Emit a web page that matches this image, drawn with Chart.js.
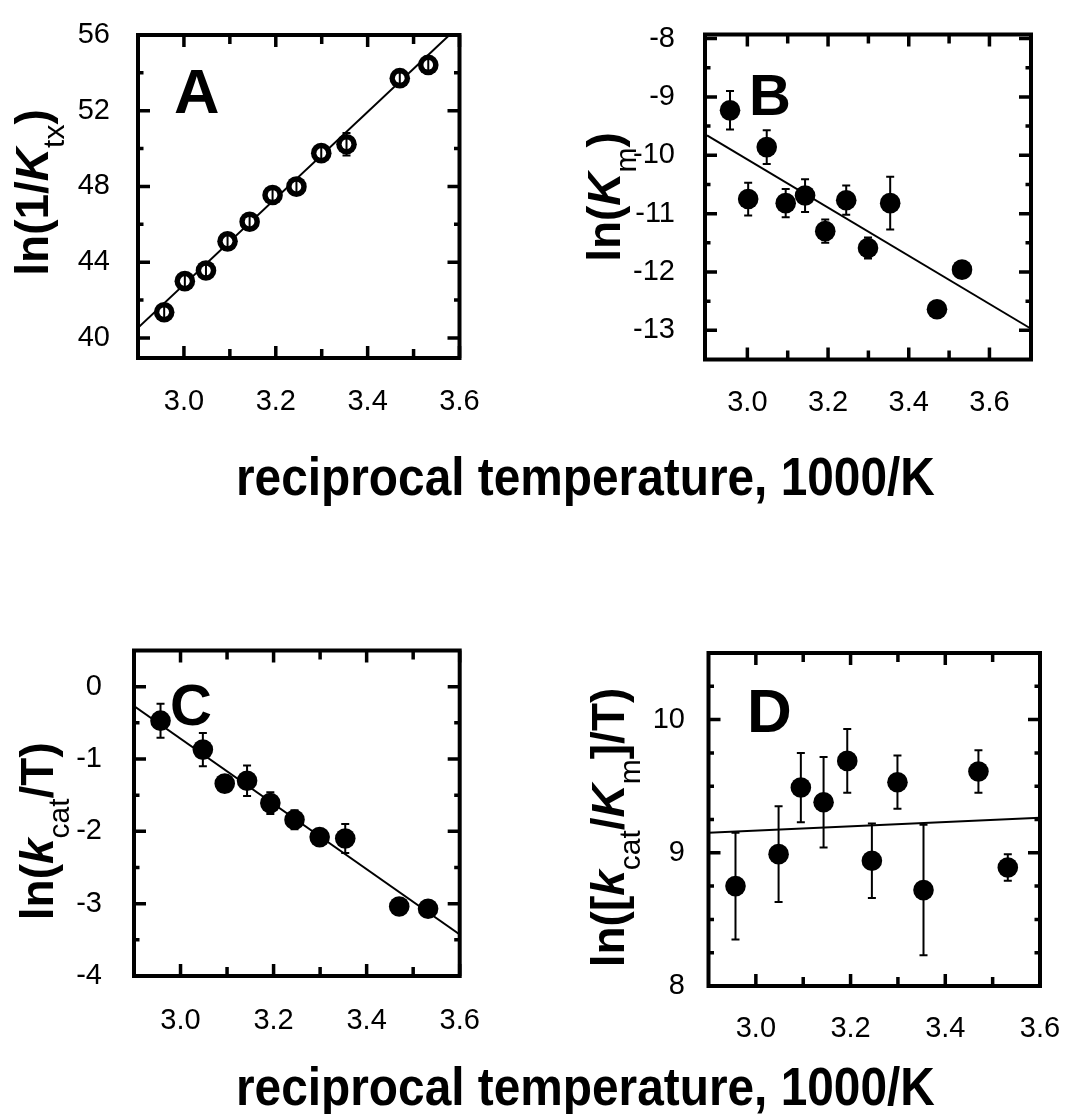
<!DOCTYPE html>
<html>
<head>
<meta charset="utf-8">
<script src="https://cdn.jsdelivr.net/npm/chart.js@4.4.1/dist/chart.umd.min.js"></script>
<style>
html,body{margin:0;padding:0;background:#fff;}
body{width:1067px;height:1114px;position:relative;overflow:hidden;}
canvas{position:absolute;}
.xt{position:absolute;left:236px;font-family:'Liberation Sans',Arial,Helvetica,sans-serif;font-weight:bold;font-size:53px;line-height:53px;white-space:nowrap;transform-origin:0 0;transform:scaleX(0.902);color:#000;}
</style>
</head>
<body>
<canvas id="cA" width="530" height="480" style="left:0px;top:-40px"></canvas>
<canvas id="cB" width="600" height="480" style="left:530px;top:-40px"></canvas>
<canvas id="cC" width="530" height="480" style="left:0px;top:580px"></canvas>
<canvas id="cD" width="600" height="480" style="left:530px;top:580px"></canvas>
<div class="xt" style="top:450px">reciprocal temperature, 1000/K</div>
<div class="xt" style="top:1060px">reciprocal temperature, 1000/K</div>
<script>
// ---------------- data ----------------
const recipTemp11 = [2.957, 3.002, 3.048, 3.095, 3.143, 3.193, 3.245, 3.299, 3.354, 3.470, 3.532];
const recipTemp10 = [2.957, 3.048, 3.095, 3.143, 3.193, 3.245, 3.299, 3.354, 3.470, 3.532];

const lnInvKtx    = [41.36, 43.00, 43.56, 45.10, 46.14, 47.55, 47.99, 49.76, 50.23, 53.72, 54.42];
const lnInvKtxErr = [0.35, 0.35, 0.35, 0.35, 0.35, 0.35, 0.35, 0.35, 0.60, 0.30, 0.35];

const lnKm    = [-9.23, -10.75, -9.86, -10.82, -10.69, -11.30, -10.77, -11.59, -10.82, -12.64, -11.96];
const lnKmErr = [0.33, 0.28, 0.29, 0.24, 0.28, 0.20, 0.25, 0.18, 0.45, 0.12, 0.06];

const lnKcatT    = [-0.47, -0.87, -1.34, -1.30, -1.61, -1.84, -2.08, -2.10, -3.04, -3.07];
const lnKcatTErr = [0.235, 0.23, 0.04, 0.21, 0.15, 0.13, 0.04, 0.20, 0.04, 0.04];

const lnKcatKmT    = [8.75, 8.99, 9.49, 9.38, 9.69, 8.94, 9.53, 8.72, 9.61, 8.89];
const lnKcatKmTErr = [0.40, 0.36, 0.26, 0.34, 0.24, 0.28, 0.20, 0.49, 0.16, 0.10];

const fitXA = [2.9, 3.6],  fitYA = [40.53, 56.5];
const fitXB = [2.9, 3.7],  fitYB = [-9.66, -12.96];
const fitXC = [2.9, 3.6],  fitYC = [-0.267, -3.425];
const fitXD = [2.9, 3.6],  fitYD = [9.15, 9.263];

const xTickLabels = [3.0, 3.2, 3.4, 3.6];
const xMinorTicks = [3.1, 3.3, 3.5];
const yTicksA = [40, 44, 48, 52, 56],          yMinorA = [42, 46, 50, 54];
const yTicksB = [-8, -9, -10, -11, -12, -13],   yMinorB = [-8.5, -9.5, -10.5, -11.5, -12.5];
const yTicksC = [0, -1, -2, -3, -4],            yMinorC = [-0.5, -1.5, -2.5, -3.5];
const yTicksD = [8, 9, 10],                     yMinorD = [8.25, 8.5, 8.75, 9.25, 9.5, 9.75, 10.25];

// ---------------- styling / plugins ----------------
const FONT = "'Liberation Sans', Arial, Helvetica, sans-serif";
Chart.defaults.font.family = FONT;
Chart.defaults.color = '#000';

const errorBars = {
  id: 'errorBars',
  afterDatasetsDraw(chart, args, o) {
    const {ctx, scales: {x, y}} = chart;
    ctx.save();
    ctx.strokeStyle = '#000';
    ctx.lineWidth = (o && o.width) || 2;
    const cap = (o && o.cap) || 4;
    chart.data.datasets.forEach(ds => {
      if (!ds.errors) return;
      ds.data.forEach((p, i) => {
        const e = ds.errors[i];
        const px = x.getPixelForValue(p.x);
        const y1 = y.getPixelForValue(p.y + e);
        const y2 = y.getPixelForValue(p.y - e);
        ctx.beginPath();
        ctx.moveTo(px, y1); ctx.lineTo(px, y2);
        ctx.moveTo(px - cap, y1); ctx.lineTo(px + cap, y1);
        ctx.moveTo(px - cap, y2); ctx.lineTo(px + cap, y2);
        ctx.stroke();
      });
    });
    ctx.restore();
  }
};

const frameTicks = {
  id: 'frameTicks',
  afterDatasetsDraw(chart, args, o) {
    if (!o || !o.xMajor) return;
    const {ctx, chartArea: a, scales: {x, y}} = chart;
    ctx.save();
    ctx.strokeStyle = '#000';
    ctx.lineCap = 'butt';
    ctx.lineWidth = o.tickWidth;
    const vt = (vals, len) => vals.forEach(v => {
      const p = x.getPixelForValue(v);
      ctx.beginPath();
      ctx.moveTo(p, a.bottom); ctx.lineTo(p, a.bottom - len);
      ctx.moveTo(p, a.top); ctx.lineTo(p, a.top + len);
      ctx.stroke();
    });
    const ht = (vals, len) => vals.forEach(v => {
      const p = y.getPixelForValue(v);
      ctx.beginPath();
      ctx.moveTo(a.left, p); ctx.lineTo(a.left + len, p);
      ctx.moveTo(a.right, p); ctx.lineTo(a.right - len, p);
      ctx.stroke();
    });
    vt(o.xMajor, o.xMajorLen); vt(o.xMinor, o.xMinorLen);
    ht(o.yMajor, o.yMajorLen); ht(o.yMinor, o.yMinorLen);
    ctx.lineWidth = o.frameWidth;
    ctx.lineJoin = 'miter';
    ctx.strokeRect(a.left, a.top, a.right - a.left, a.bottom - a.top);
    ctx.restore();
  }
};

const richTitle = {
  id: 'richTitle',
  afterDraw(chart, args, o) {
    if (!o || !o.segs) return;
    const {ctx, chartArea: a} = chart;
    ctx.save();
    ctx.fillStyle = '#000';
    ctx.textAlign = 'left';
    ctx.textBaseline = 'alphabetic';
    let total = 0;
    const ws = o.segs.map(s => { ctx.font = s.font; const w = ctx.measureText(s.t).width; total += w; return w; });
    ctx.translate(a.left + o.dx, (a.top + a.bottom) / 2 + o.dy);
    ctx.rotate(-Math.PI / 2);
    let cx = -total / 2;
    o.segs.forEach((s, i) => { ctx.font = s.font; ctx.fillText(s.t, cx, s.sub || 0); cx += ws[i]; });
    ctx.restore();
  }
};

const panelLetter = {
  id: 'panelLetter',
  afterDraw(chart, args, o) {
    if (!o || !o.text) return;
    const {ctx, chartArea: a} = chart;
    ctx.save();
    ctx.fillStyle = '#000';
    ctx.font = 'bold ' + o.size + 'px ' + FONT;
    ctx.textAlign = 'left';
    ctx.textBaseline = 'alphabetic';
    ctx.fillText(o.text, a.left + o.dx, a.top + o.dy);
    ctx.restore();
  }
};

Chart.register(errorBars, frameTicks, richTitle, panelLetter);

const B46 = 'bold 46px ' + FONT;
const BI46 = 'italic bold 46px ' + FONT;
const R30 = '30px ' + FONT;
const SUB = 16;

function pointSet(pts, radius, color, order, errs) {
  const ds = {type: 'scatter', data: pts, order: order,
    pointRadius: radius, pointBorderWidth: 0, pointBackgroundColor: color, pointBorderColor: color,
    backgroundColor: color, borderColor: color, borderWidth: 0};
  if (errs) ds.errors = errs;
  return ds;
}

function makePanel(p) {
  const pts = p.xs.map((v, i) => ({x: v, y: p.ys[i]}));
  const fit = p.fx.map((v, i) => ({x: v, y: p.fy[i]}));
  const datasets = [
    {type: 'line', data: fit, borderColor: '#000', borderWidth: 2, pointRadius: 0, fill: false, tension: 0, order: 5}
  ];
  if (p.open) {
    datasets.push(pointSet(pts, 10.3, '#000', 4, null));
    datasets.push(pointSet(pts, 4.8, '#fff', 3, p.errs));
  } else {
    datasets.push(pointSet(pts, 10.3, '#000', 4, p.errs));
  }
  new Chart(document.getElementById(p.id), {
    type: 'scatter',
    data: {datasets},
    options: {
      responsive: false,
      animation: false,
      events: [],
      layout: {padding: {left: 0, top: p.area.T - p.cy, right: p.cx + p.cw - p.area.R, bottom: 0}},
      plugins: {
        legend: {display: false},
        tooltip: {enabled: false},
        errorBars: {width: 2, cap: 4},
        frameTicks: {xMajor: xTickLabels, xMinor: xMinorTicks, yMajor: p.yMajor, yMinor: p.yMinor,
                     xMajorLen: 12, xMinorLen: 9, yMajorLen: 12, yMinorLen: 5.5, tickWidth: 3.5, frameWidth: 4},
        richTitle: {segs: p.title, dx: p.tdx, dy: p.tdy},
        panelLetter: {text: p.letter, size: p.lsize, dx: p.ldx, dy: p.ldy}
      },
      scales: {
        x: {
          type: 'linear', min: p.xmin, max: p.xmax, bounds: 'data',
          grid: {display: false, drawTicks: false}, border: {display: false},
          afterBuildTicks: s => { s.ticks = xTickLabels.map(v => ({value: v})); },
          afterFit: s => { s.height = p.cy + p.ch - p.area.B; },
          ticks: {padding: p.xpad, font: {size: 29, family: FONT}, color: '#000',
                  maxRotation: 0, minRotation: 0, autoSkip: false,
                  callback: v => Number(v).toFixed(1)}
        },
        y: {
          type: 'linear', min: p.ymin, max: p.ymax, bounds: 'data',
          grid: {display: false, drawTicks: false}, border: {display: false},
          afterBuildTicks: s => { s.ticks = p.yMajor.map(v => ({value: v})); },
          afterFit: s => { s.width = p.area.L - p.cx; },
          ticks: {padding: p.ypad, font: {size: 29, family: FONT}, color: '#000', autoSkip: false,
                  callback: v => String(v)}
        }
      }
    }
  });
}

makePanel({
  id: 'cA', cx: 0, cy: -40, cw: 530, ch: 480, area: {L: 138, T: 35, R: 459.5, B: 358},
  xs: recipTemp11, ys: lnInvKtx, errs: lnInvKtxErr, fx: fitXA, fy: fitYA, open: true,
  xmin: 2.9, xmax: 3.6, ymin: 38.94, ymax: 56, yMajor: yTicksA, yMinor: yMinorA,
  xpad: 27, ypad: 28,
  title: [{t: 'ln(1/', font: B46}, {t: 'K', font: BI46}, {t: 'tx', font: R30, sub: SUB}, {t: ')', font: B46}],
  tdx: -90, tdy: -4,
  letter: 'A', lsize: 63, ldx: 36, ldy: 77.7
});

makePanel({
  id: 'cB', cx: 530, cy: -40, cw: 600, ch: 480, area: {L: 705, T: 34.5, R: 1031, B: 359.5},
  xs: recipTemp11, ys: lnKm, errs: lnKmErr, fx: fitXB, fy: fitYB, open: false,
  xmin: 2.895, xmax: 3.703, ymin: -13.5, ymax: -7.93, yMajor: yTicksB, yMinor: yMinorB,
  xpad: 26, ypad: 30,
  title: [{t: 'ln(', font: B46}, {t: 'K', font: BI46}, {t: 'm', font: R30, sub: SUB}, {t: ')', font: B46}],
  tdx: -85, tdy: 0,
  letter: 'B', lsize: 58, ldx: 44, ldy: 80.5
});

makePanel({
  id: 'cC', cx: 0, cy: 580, cw: 530, ch: 480, area: {L: 134, T: 650.5, R: 459.7, B: 976},
  xs: recipTemp10, ys: lnKcatT, errs: lnKcatTErr, fx: fitXC, fy: fitYC, open: false,
  xmin: 2.9, xmax: 3.6, ymin: -4, ymax: 0.5, yMajor: yTicksC, yMinor: yMinorC,
  xpad: 28, ypad: 32,
  title: [{t: 'ln(', font: B46}, {t: 'k', font: BI46}, {t: 'cat', font: R30, sub: SUB}, {t: '/T)', font: B46}],
  tdx: -81, tdy: 18,
  letter: 'C', lsize: 58, ldx: 36, ldy: 74.5
});

makePanel({
  id: 'cD', cx: 530, cy: 580, cw: 600, ch: 480, area: {L: 708.5, T: 653, R: 1040, B: 986},
  xs: recipTemp10, ys: lnKcatKmT, errs: lnKcatKmTErr, fx: fitXD, fy: fitYD, open: false,
  xmin: 2.9, xmax: 3.6, ymin: 8, ymax: 10.5, yMajor: yTicksD, yMinor: yMinorD,
  xpad: 26, ypad: 23.5,
  title: [{t: 'ln([', font: B46}, {t: 'k', font: BI46}, {t: 'cat', font: R30, sub: SUB}, {t: '/', font: B46},
          {t: 'K', font: BI46}, {t: 'm', font: R30, sub: SUB}, {t: ']/T)', font: B46}],
  tdx: -84.5, tdy: 8,
  letter: 'D', lsize: 62, ldx: 38.5, ldy: 78.7
});
</script>
</body>
</html>
